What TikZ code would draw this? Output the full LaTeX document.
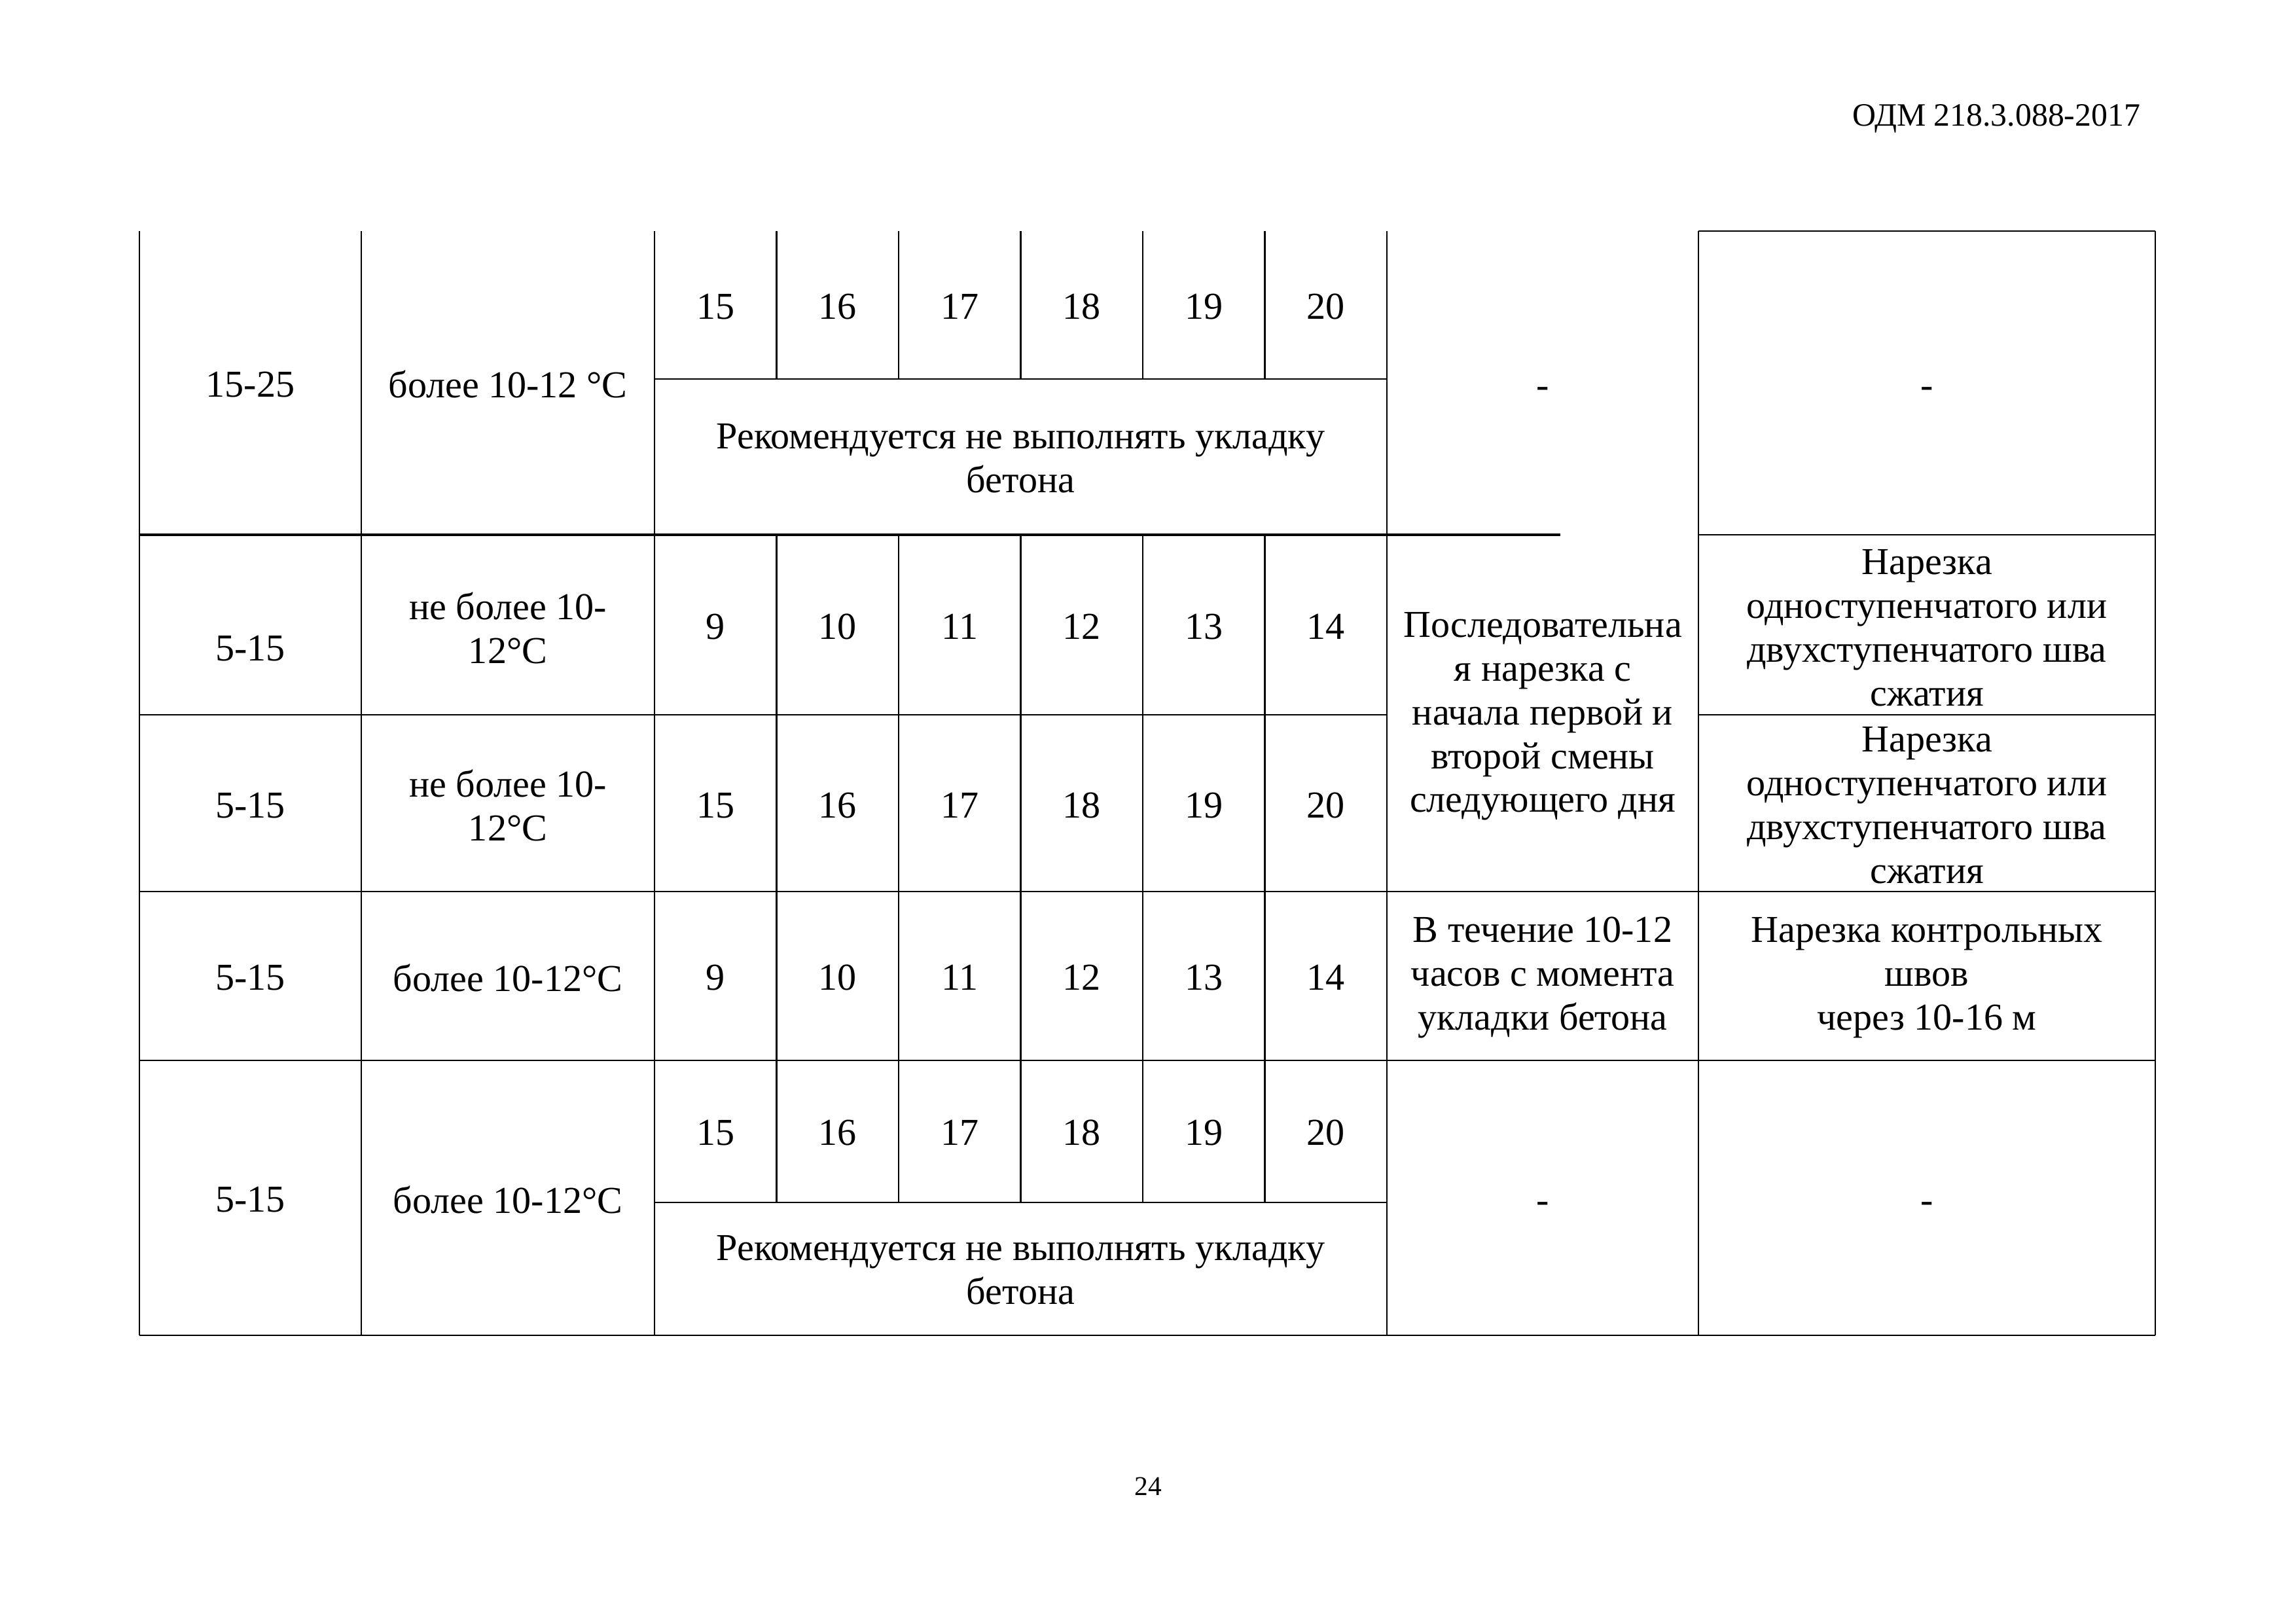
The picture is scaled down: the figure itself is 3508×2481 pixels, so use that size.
\documentclass[tikz,border=0pt]{standalone}
\usepackage{fontspec}
\setmainfont{Liberation Serif}
\usetikzlibrary{calc}
\usetikzlibrary{positioning}
\tikzset{every picture/.style={x=0.0846658mm,y=-0.0846658mm},cell/.style={align=center,inner sep=0pt,yshift=-0.6pt,font=\fontsize{14}{16.1}\selectfont},thin rule/.style={line width=0.5pt},mid rule/.style={line width=0.7pt},thick rule/.style={line width=0.85pt}}

\begin{document}
\begin{tikzpicture}
\useasboundingbox (0,0) rectangle (3508,2481);
\node (head) [anchor=base east,inner sep=0pt,font=\fontsize{12}{14}\selectfont] at (3271,193) {ОДМ 218.3.088-2017};
\node (page) [inner sep=0pt,font=\fontsize{10}{12}\selectfont] at (1754,2271) {24};

% rules of the table
\foreach \x in {213,552,1000,2119,2595,3293} {
\draw[thin rule] (\x,353) -- (\x,2040);
}
\foreach \k in {1,...,5} {
\draw[thin rule] ({1000+186.5*\k},353) -- ({1000+186.5*\k},579);
\draw[thin rule] ({1000+186.5*\k},817) -- ({1000+186.5*\k},1837);
}
\draw[mid rule] (2595,353) -- (3293,353);
\draw[thin rule] (1000,579) -- (2119,579);
\draw[thick rule] (213,817) -- (2384,817);
\draw[mid rule] (2595,817) -- (3293,817);
\draw[thin rule] (213,1092) -- (2119,1092);
\draw[thin rule] (2595,1092) -- (3293,1092);
\foreach \y in {1362,1620,2040} {
\draw[thin rule] (213,\y) -- (3293,\y);
}
\draw[thin rule] (1000,1837) -- (2119,1837);

% number cells
\foreach \y/\s/\r in {466/15/a,955/9/b,1228/15/c,1491/9/d,1728/15/e} {
\foreach \k in {0,...,5} {
\pgfmathtruncatemacro\v{\s+\k}
\node (\r\k) [cell] at ({1000+186.5*(\k+0.5)},\y) {\v};
}
}

% row 1
\node (t1) [cell] at (382.5,585) {15-25};
\node (w1) [cell] at (776,585) {более 10-12 °C};
\node (rec1) [cell] at (1559.5,698) {Рекомендуется не выполнять укладку\\бетона};
\node (p1) [cell,anchor=base] at (2357,605) {-};
\node (q1) [cell,anchor=base] at (2944,605) {-};

% rows 2 and 3
\node (t2) [cell] at (382.5,988) {5-15};
\node (w2) [cell] at (776,957) {не более 10-\\12°C};
\node (t3) [cell] at (382.5,1228) {5-15};
\node (w3) [cell] at (776,1228) {не более 10-\\12°C};
\node (p2) [cell] at (2357,1092) {Последовательна\\я нарезка с\\начала первой и\\второй смены\\следующего дня};
\node (q2) [cell] at (2944,957) {Нарезка\\одноступенчатого или\\двухступенчатого шва\\сжатия};
\node (q3) [cell] at (2944,1228) {Нарезка\\одноступенчатого или\\двухступенчатого шва\\сжатия};

% row 4
\node (t4) [cell] at (382.5,1491) {5-15};
\node (w4) [cell] at (776,1491) {более 10-12°C};
\node (p4) [cell] at (2357,1491) {В течение 10-12\\часов с момента\\укладки бетона};
\node (q4) [cell] at (2944,1491) {Нарезка контрольных\\швов\\через 10-16 м};

% row 5
\node (t5) [cell] at (382.5,1830) {5-15};
\node (w5) [cell] at (776,1830) {более 10-12°C};
\node (rec5) [cell] at (1559.5,1938) {Рекомендуется не выполнять укладку\\бетона};
\node (p5) [cell,anchor=base] at (2357,1850) {-};
\node (q5) [cell,anchor=base] at (2944,1850) {-};
\end{tikzpicture}
\end{document}
